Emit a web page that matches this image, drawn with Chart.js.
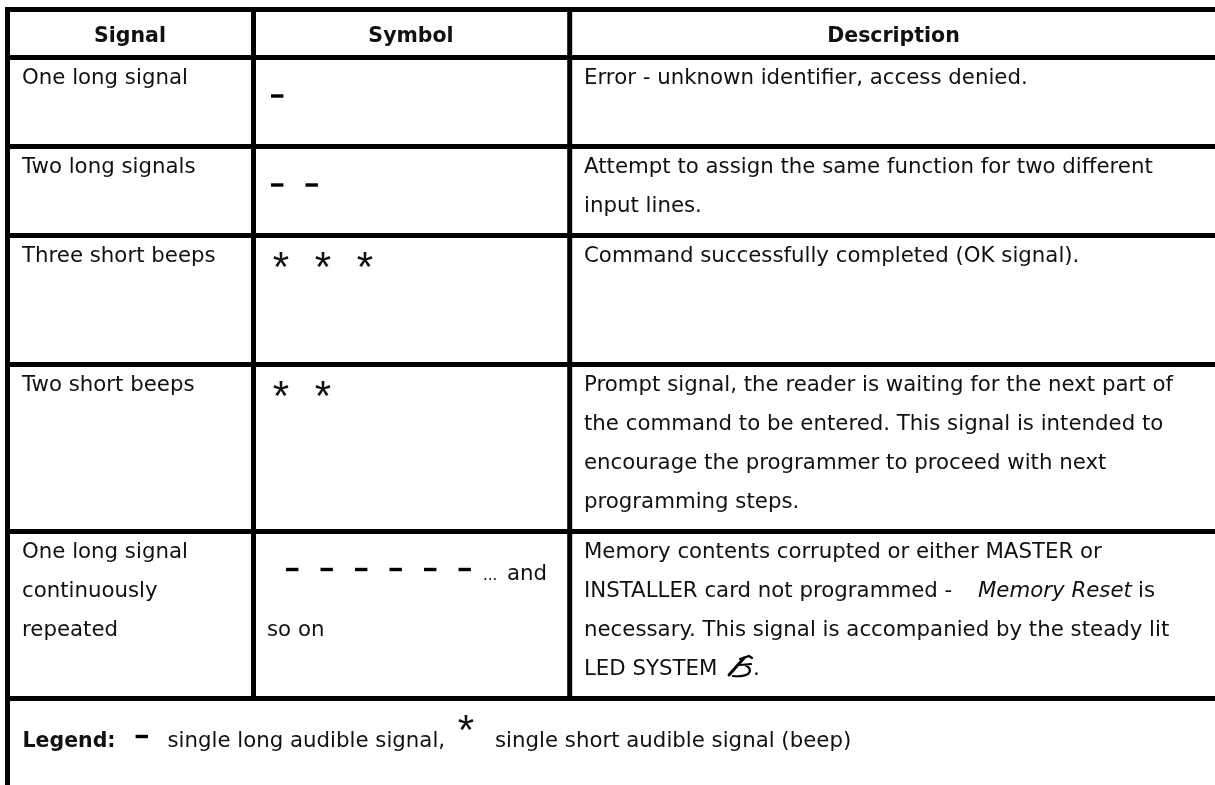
<!DOCTYPE html>
<html><head><meta charset="utf-8">
<style>html,body{margin:0;padding:0;background:#fff;overflow:hidden}#w{position:relative;width:1215px;height:785px}canvas{display:block}</style>
<script src="https://cdn.jsdelivr.net/npm/chart.js@4"></script></head>
<body><div id="w"><canvas id="c" width="1215" height="785"></canvas></div>
<script>
// ---- table content ----
const columnHeaders = ["Signal","Symbol","Description"];
const signalLines = [["One long signal"],["Two long signals"],["Three short beeps"],["Two short beeps"],["One long signal","continuously","repeated"]];
const symbolRows = ["-","--","***","**","------"];
const descriptionLines = [
 ["Error - unknown identifier, access denied."],
 ["Attempt to assign the same function for two different","input lines."],
 ["Command successfully completed (OK signal)."],
 ["Prompt signal, the reader is waiting for the next part of","the command to be entered. This signal is intended to","encourage the programmer to proceed with next","programming steps."],
 ["Memory contents corrupted or either MASTER or","INSTALLER card not programmed -","necessary. This signal is accompanied by the steady lit","LED SYSTEM"]
];
const repeatTail = ["...","and","so on"];
const italicRun = "Memory Reset";
const legendLabel = "Legend:";
const legendLong = "single long audible signal,";
const legendShort = "single short audible signal (beep)";
// ---- table layout on the x / y axes ----
const columnRules = [7.5,253.5,569.7];
const rowRules = [9.5,57.5,146.5,235.5,364.5,531.5,698.5];
const tableLeft = 5, tableRight = 1215, pageBottom = 785;
const ruleWidth = 5;
const BODY='21.3px "DejaVu Sans"', BOLD='bold 20.5px "DejaVu Sans"', ITALIC='italic 21.3px "DejaVu Sans"';
const INK='#111';

const rules=[];
rowRules.forEach(y=>rules.push([{x:tableLeft,y},{x:tableRight,y}]));
columnRules.forEach((x,i)=>rules.push([{x,y:rowRules[0]-2.5},{x,y:i===0?pageBottom:rowRules[6]}]));

const dashPts=[];
symbolRows.forEach((s,r)=>{
  if(s[0]!=='-')return;
  const last=r===4, y=rowRules[r+1]+(last?38:38.5);
  [...s].forEach((_,i)=>dashPts.push({x:(last?292.2:277.2)+i*34.5,y}));
});
dashPts.push({x:141.8,y:736.5});

const datasets=rules.map(data=>({data,showLine:true,borderColor:'#000',borderWidth:ruleWidth,pointRadius:0,fill:false,tension:0}));
datasets.push({data:dashPts,showLine:false,pointStyle:'line',pointRadius:6.2,pointBorderWidth:3.4,pointBorderColor:'#000',borderColor:'#000'});

function star(ctx,x,y){ // five-armed asterisk as text
  ctx.save();ctx.font='42px "Liberation Sans"';ctx.textAlign='center';ctx.textBaseline='alphabetic';
  ctx.fillText('*',x,y+19);ctx.restore();
}
const tablePlugin={
 id:'table',
 afterDraw(chart){
  const {ctx,scales:{x,y}}=chart;
  const px=v=>x.getPixelForValue(v), py=v=>y.getPixelForValue(v);
  const text=(t,a,b)=>ctx.fillText(t,px(a),py(b));
  ctx.save();ctx.fillStyle=INK;ctx.textBaseline='alphabetic';
  ctx.font=BOLD;ctx.textAlign='center';
  const centres=[130,411,893.5];
  columnHeaders.forEach((h,i)=>text(h,centres[i],42));
  ctx.textAlign='left';ctx.font=BODY;
  signalLines.forEach((ls,i)=>ls.forEach((t,j)=>text(t,22,rowRules[i+1]+26.5+j*39)));
  descriptionLines.forEach((ls,i)=>ls.forEach((t,j)=>text(t,584,rowRules[i+1]+26.5+j*39)));
  // stars
  symbolRows.forEach((s,r)=>{ if(s[0]==='*')[...s].forEach((_,i)=>star(ctx,px(281+i*42),py(rowRules[r+1]+26)));});
  // repeat row tail
  ctx.font='15px "DejaVu Sans"';text(repeatTail[0],483,580);
  ctx.font=BODY;text(repeatTail[1],507,580);text(repeatTail[2],267,636);
  // italic run
  ctx.font=ITALIC;text(italicRun,978,597);
  ctx.font=BODY;text("is",1138,597);
  text(".",753,675);
  // LED wrench symbol
  ctx.save();ctx.translate(px(727),py(655));ctx.strokeStyle='#000';ctx.lineWidth=3;ctx.lineCap='round';
  ctx.beginPath();ctx.moveTo(2,20);ctx.lineTo(17,3);ctx.stroke();
  ctx.lineWidth=2.2;ctx.beginPath();ctx.moveTo(13,4);ctx.lineTo(22,1);ctx.lineTo(25,3);
  ctx.moveTo(13,10);ctx.lineTo(24,9);
  ctx.moveTo(18,10);ctx.quadraticCurveTo(26,14,21,19);ctx.quadraticCurveTo(16,22,6,21);ctx.stroke();
  ctx.restore();
  // legend row
  ctx.font=BOLD;text(legendLabel,22.5,746.7);
  ctx.font=BODY;text(legendLong,167.5,746.7);text(legendShort,495,746.7);
  star(ctx,px(466),py(725));
  ctx.restore();
 }
};
new Chart(document.getElementById('c'),{
 type:'scatter',
 data:{datasets},
 plugins:[tablePlugin],
 options:{responsive:false,animation:false,
  layout:{padding:0,autoPadding:false},
  plugins:{legend:{display:false},tooltip:{enabled:false}},
  scales:{
   x:{type:'linear',min:0,max:1215,display:false},
   y:{type:'linear',min:0,max:785,reverse:true,display:false}
  }}
});
</script></body></html>
